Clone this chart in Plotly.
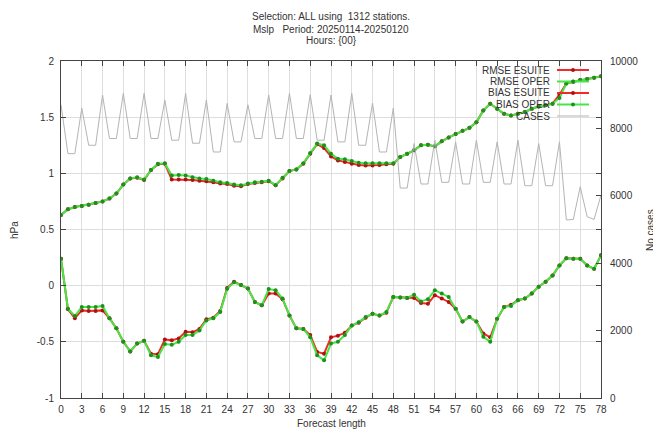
import plotly.graph_objects as go

# ---------------- data ----------------
hours = list(range(79))

rmse_esuite = [0.63, 0.68, 0.70, 0.71, 0.72, 0.735, 0.75, 0.775, 0.82, 0.90,
               0.955, 0.96, 0.94, 1.03, 1.08, 1.085, 0.945, 0.945, 0.945, 0.94,
               0.935, 0.93, 0.92, 0.91, 0.905, 0.89, 0.885, 0.905, 0.915, 0.92,
               0.93, 0.895, 0.955, 1.02, 1.035, 1.085, 1.175, 1.26, 1.225, 1.15,
               1.115, 1.10, 1.085, 1.075, 1.07, 1.07, 1.075, 1.08, 1.085, 1.145,
               1.175, 1.205, 1.25, 1.255, 1.24, 1.285, 1.32, 1.35, 1.38, 1.405,
               1.455, 1.56, 1.62, 1.575, 1.53, 1.515, 1.53, 1.545, 1.575, 1.595,
               1.605, 1.62, 1.70, 1.80, 1.815, 1.83, 1.84, 1.85, 1.865]

rmse_oper = [0.63, 0.68, 0.70, 0.71, 0.72, 0.735, 0.75, 0.775, 0.82, 0.90,
             0.955, 0.965, 0.945, 1.03, 1.085, 1.09, 0.98, 0.985, 0.98, 0.965,
             0.955, 0.95, 0.935, 0.92, 0.915, 0.90, 0.895, 0.91, 0.92, 0.925,
             0.935, 0.895, 0.96, 1.02, 1.035, 1.09, 1.18, 1.265, 1.25, 1.175,
             1.13, 1.125, 1.11, 1.095, 1.09, 1.09, 1.09, 1.09, 1.09, 1.145,
             1.175, 1.205, 1.25, 1.255, 1.24, 1.285, 1.32, 1.35, 1.38, 1.405,
             1.455, 1.56, 1.62, 1.575, 1.53, 1.515, 1.53, 1.545, 1.575, 1.595,
             1.605, 1.62, 1.67, 1.80, 1.815, 1.83, 1.84, 1.85, 1.865]

bias_esuite = [0.24, -0.21, -0.29, -0.22, -0.225, -0.225, -0.22, -0.29, -0.38, -0.50,
               -0.585, -0.515, -0.49, -0.605, -0.61, -0.48, -0.485, -0.47, -0.41, -0.415,
               -0.385, -0.30, -0.285, -0.225, -0.02, 0.035, 0.005, -0.025, -0.145, -0.175,
               -0.07, -0.07, -0.12, -0.265, -0.38, -0.385, -0.44, -0.59, -0.605, -0.46,
               -0.445, -0.42, -0.355, -0.33, -0.285, -0.25, -0.265, -0.24, -0.10, -0.105,
               -0.11, -0.11, -0.155, -0.16, -0.085, -0.115, -0.145, -0.205, -0.32, -0.28,
               -0.32, -0.425, -0.46, -0.295, -0.19, -0.17, -0.13, -0.115, -0.07, -0.01,
               0.035, 0.09, 0.18, 0.245, 0.24, 0.24, 0.18, 0.15, 0.27]

bias_oper = [0.24, -0.205, -0.27, -0.19, -0.19, -0.19, -0.18, -0.29, -0.38, -0.50,
             -0.585, -0.515, -0.49, -0.62, -0.635, -0.52, -0.525, -0.50, -0.44, -0.44,
             -0.40, -0.31, -0.29, -0.235, -0.027, 0.03, 0.005, -0.025, -0.145, -0.175,
             -0.03, -0.04, -0.115, -0.265, -0.38, -0.385, -0.46, -0.62, -0.665, -0.515,
             -0.50, -0.44, -0.355, -0.325, -0.28, -0.25, -0.265, -0.235, -0.10, -0.105,
             -0.11, -0.08, -0.14, -0.12, -0.04, -0.07, -0.10, -0.205, -0.32, -0.28,
             -0.32, -0.455, -0.50, -0.295, -0.19, -0.18, -0.13, -0.115, -0.07, -0.01,
             0.035, 0.09, 0.18, 0.245, 0.24, 0.24, 0.18, 0.15, 0.27]

cases = [8700, 7250, 7250, 8600, 7500, 7500, 8990, 7700, 7700, 9040,
         7700, 7700, 9040, 7700, 7700, 8840, 7650, 7650, 9040, 7560,
         7560, 8840, 7300, 7300, 8740, 7600, 7600, 8700, 7700, 7700,
         8990, 7700, 7700, 9040, 7700, 7700, 9000, 7650, 7650, 8990,
         7600, 7600, 9040, 7500, 7500, 8750, 7300, 7300, 8600, 6230,
         6230, 7550, 6350, 6350, 7650, 6400, 6400, 7600, 6350, 6350,
         7650, 6400, 6400, 7600, 6350, 6350, 7650, 6300, 6300, 7550,
         6300, 6300, 7600, 5280, 5300, 6270, 5380, 5300, 6020]

x_ticks = list(range(0, 79, 3))
y_ticks = [-1, -0.5, 0, 0.5, 1, 1.5, 2]
y_tick_labels = ["-1", "-0.5", "0", "0.5", "1", "1.5", "2"]
y2_ticks = [0, 2000, 4000, 6000, 8000, 10000]
y2_tick_labels = ["0", "2000", "4000", "6000", "8000", "10000"]

title_lines = ["Selection: ALL using  1312 stations.",
               "Mslp   Period: 20250114-20250120",
               "Hours: {00}"]
legend_names = ["RMSE ESUITE", "RMSE OPER", "BIAS ESUITE", "BIAS OPER", "CASES"]

# ---------------- style ----------------
OFF = 8                      # page body margin of the html page
W, H = 661 - OFF, 430 - OFF  # figure size
# plot-area edges in page pixels
L, R, T, B = 61, 601, 61, 398
FONT = "Liberation Sans, Arial, sans-serif"
RED, RED_M = "#f02a2a", "#b01010"
GRN, GRN_M = "#44e844", "#1f8f1f"
GREY = "#b4b4b4"
TXT = "#333333"


def px(xp):
    return (xp - L) / (R - L)


def py(yp):
    return (B - yp) / (B - T)


fig = go.Figure()

series = [
    (legend_names[0], rmse_esuite, RED, RED_M),
    (legend_names[1], rmse_oper, GRN, GRN_M),
    (legend_names[2], bias_esuite, RED, RED_M),
    (legend_names[3], bias_oper, GRN, GRN_M),
]
for name, vals, col, mcol in series:
    fig.add_trace(go.Scatter(
        x=hours, y=vals, name=name, mode="lines+markers",
        line=dict(color=col, width=2),
        marker=dict(color=mcol, size=4, line=dict(width=0)),
        yaxis="y", showlegend=False))

fig.add_trace(go.Scatter(
    x=hours, y=cases, name=legend_names[4], mode="lines",
    line=dict(color=GREY, width=1), yaxis="y2", showlegend=False))

annotations = []
for i, t in enumerate(title_lines):
    annotations.append(dict(text=t, xref="paper", yref="paper",
                            x=px(331), y=py(17 + 12 * i), showarrow=False,
                            xanchor="center", yanchor="middle",
                            font=dict(family=FONT, size=10, color=TXT)))

annotations.append(dict(text="hPa", xref="paper", yref="paper", x=px(14), y=py(230),
                        textangle=-90, showarrow=False, xanchor="center", yanchor="middle",
                        font=dict(family=FONT, size=10, color=TXT)))
annotations.append(dict(text="No cases", xref="paper", yref="paper", x=px(650), y=py(230),
                        textangle=-90, showarrow=False, xanchor="center", yanchor="middle",
                        font=dict(family=FONT, size=10, color=TXT)))
annotations.append(dict(text="Forecast length", xref="paper", yref="paper", x=px(331), y=py(423),
                        showarrow=False, xanchor="center", yanchor="middle",
                        font=dict(family=FONT, size=10, color=TXT)))

shapes = []
leg_cols = [(RED, RED_M, True), (GRN, GRN_M, True), (RED, RED_M, True),
            (GRN, GRN_M, True), (GREY, None, False)]
for i, name in enumerate(legend_names):
    yy = 70 + 11.5 * i
    annotations.append(dict(text=name, xref="paper", yref="paper", x=px(552), y=py(yy),
                            showarrow=False, xanchor="right", yanchor="middle",
                            font=dict(family=FONT, size=10, color=TXT)))
    col, mcol, mk = leg_cols[i]
    shapes.append(dict(type="line", xref="paper", yref="paper",
                       x0=px(557), x1=px(589), y0=py(yy), y1=py(yy),
                       line=dict(color=col, width=2 if mk else 1)))
    if mk:
        shapes.append(dict(type="circle", xref="paper", yref="paper",
                           xsizemode="pixel", ysizemode="pixel",
                           xanchor=px(573), yanchor=py(yy),
                           x0=-2, x1=2, y0=-2, y1=2,
                           fillcolor=mcol, line=dict(width=0)))

fig.update_layout(
    template="none",
    width=W, height=H, autosize=False,
    margin=dict(l=L - OFF, r=W - (R - OFF), t=T - OFF, b=H - (B - OFF),
                pad=0, autoexpand=False),
    paper_bgcolor="white", plot_bgcolor="white",
    font=dict(family=FONT, size=10, color=TXT),
    showlegend=False,
    annotations=annotations, shapes=shapes,
    xaxis=dict(range=[0, 78], tickvals=x_ticks, ticks="inside", ticklen=5,
               tickcolor="#444", showline=True, linecolor="#444", linewidth=1,
               mirror="ticks", showgrid=True, gridcolor="#dedede", gridwidth=1,
               zeroline=False, tickfont=dict(size=10), ticklabelstandoff=2,
               automargin=False),
    yaxis=dict(range=[-1, 2], tickvals=y_ticks, ticktext=y_tick_labels,
               ticks="inside", ticklen=5, tickcolor="#444",
               showline=True, linecolor="#444", linewidth=1, mirror="ticks",
               showgrid=True, gridcolor="#dedede", gridwidth=1, zeroline=False,
               tickfont=dict(size=10), ticklabelstandoff=4, automargin=False),
    yaxis2=dict(range=[0, 10000], tickvals=y2_ticks, ticktext=y2_tick_labels,
                overlaying="y", side="right",
                ticks="inside", ticklen=5, tickcolor="#444", showline=False,
                showgrid=False, zeroline=False, tickfont=dict(size=10),
                ticklabelstandoff=8, automargin=False),
)

fig.write_html("out.html")
